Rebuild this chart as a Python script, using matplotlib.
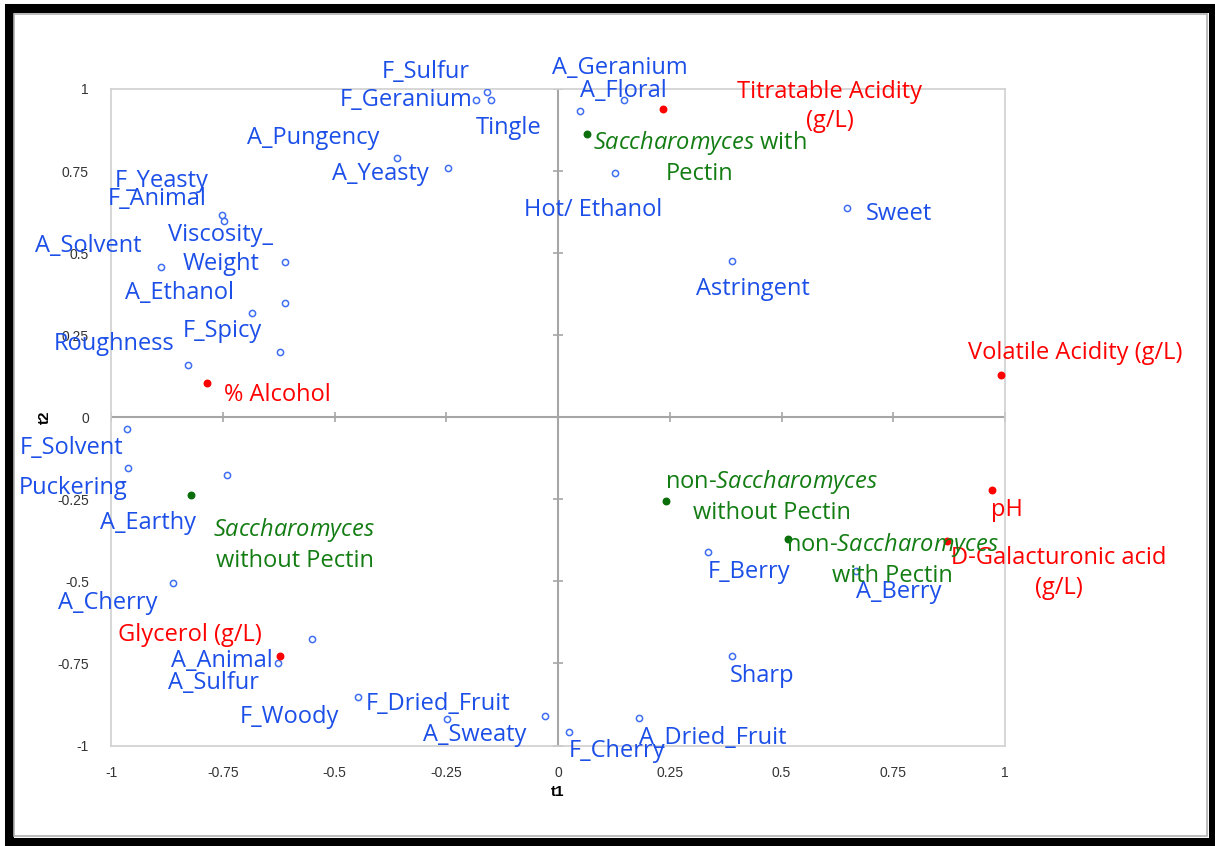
import matplotlib
matplotlib.use("Agg")
import matplotlib.pyplot as plt
from matplotlib.patches import Rectangle

plt.rcParams['font.family'] = ['Open Sans', 'DejaVu Sans']
plt.rcParams['mathtext.fontset'] = 'custom'
plt.rcParams['mathtext.rm'] = 'Open Sans'
plt.rcParams['mathtext.it'] = 'Open Sans:italic'

# sensory attributes (blue, hollow)
attr_names = ["F_Sulfur", "F_Geranium", "Tingle", "A_Geranium", "A_Floral", "Hot/ Ethanol",
              "Sweet", "Astringent", "A_Pungency", "A_Yeasty", "F_Yeasty", "F_Animal",
              "A_Solvent", "Viscosity_\nWeight", "A_Ethanol", "", "F_Spicy", "Roughness",
              "F_Solvent", "Puckering", "A_Earthy", "A_Cherry", "A_Animal", "A_Sulfur",
              "F_Woody", "F_Dried_Fruit", "A_Sweaty", "F_Cherry", "A_Dried_Fruit", "Sharp",
              "F_Berry", "A_Berry"]
attr_t1 = [-0.159, -0.184, -0.150, 0.148, 0.050, 0.127,
           0.646, 0.390, -0.361, -0.247, -0.751, -0.747,
           -0.889, -0.611, -0.684, -0.611, -0.622, -0.827,
           -0.965, -0.963, -0.741, -0.861, -0.551, -0.627,
           -0.447, -0.249, -0.028, 0.025, 0.181, 0.390,
           0.336, 0.667]
attr_t2 = [0.991, 0.966, 0.966, 0.966, 0.934, 0.743,
           0.638, 0.477, 0.789, 0.758, 0.616, 0.598,
           0.458, 0.474, 0.319, 0.349, 0.200, 0.159,
           -0.037, -0.156, -0.177, -0.504, -0.675, -0.749,
           -0.851, -0.919, -0.911, -0.959, -0.916, -0.728,
           -0.411, -0.469]

# chemical variables (red)
chem_names = ["Titratable Acidity\n(g/L)", "Volatile Acidity (g/L)", "% Alcohol", "pH",
              "D-Galacturonic acid\n(g/L)", "Glycerol (g/L)"]
chem_t1 = [0.234, 0.990, -0.786, 0.972, 0.870, -0.622]
chem_t2 = [0.940, 0.128, 0.103, -0.223, -0.377, -0.728]

# treatments (green)
treat_names = [r"$\mathit{Saccharomyces}$ with" + "\nPectin",
               r"$\mathit{Saccharomyces}$" + "\nwithout Pectin",
               r"non-$\mathit{Saccharomyces}$" + "\nwithout Pectin",
               r"non-$\mathit{Saccharomyces}$" + "\nwith Pectin"]
treat_t1 = [0.065, -0.820, 0.241, 0.514]
treat_t2 = [0.862, -0.238, -0.254, -0.370]

ticks = [-1, -0.75, -0.5, -0.25, 0, 0.25, 0.5, 0.75, 1]
tick_labels = ["-1", "-0.75", "-0.5", "-0.25", "0", "0.25", "0.5", "0.75", "1"]

# label offsets in pixels
attr_off = [(-61, 23), (-70, 3), (18, -25), (-4, 35), (43, 23), (-22, -34),
            (52, -3), (21, -25), (-83, 23), (-67, -3), (-61, 37), (-67, 25),
            (-72, 24), (-64, 15), (-73, 23), (0, 0), (-58, 24), (-74, 24),
            (-55, -16), (-54, -17), (-79, -45), (-65, -17), (-90, -19), (-64, -17),
            (-69, -17), (-9, 18), (-71, -16), (48, -16), (74, -17), (30, -17),
            (41, -17), (43, -18)]
chem_off = [(167, 5), (75, 25), (71, -9), (14, -17), (112, -29), (-90, 24)]
treat_off = [(113, -20), (103, -46), (106, 7), (105, -18)]

W, H = 1215, 846
fig = plt.figure(figsize=(W / 100, H / 100), dpi=100)
ax = fig.add_axes([111 / W, (H - 745.5) / H, 894 / W, 656.5 / H])
ax.set_xlim(-1, 1)
ax.set_ylim(-1, 1)

for s in ax.spines.values():
    s.set_color('#d0d0d0')
    s.set_linewidth(1.2)

ax.axhline(0, color='#a6a6a6', lw=1.5, zorder=1)
ax.axvline(0, color='#a6a6a6', lw=1.5, zorder=1)
ax.plot(ticks, [0] * len(ticks), ls='none', marker='|', ms=7, mew=1.2, color='#a6a6a6', zorder=1)
ax.plot([0] * len(ticks), ticks, ls='none', marker='_', ms=7, mew=1.2, color='#a6a6a6', zorder=1)

ax.set_xticks(ticks)
ax.set_xticklabels(tick_labels)
ax.set_yticks(ticks)
ax.set_yticklabels(tick_labels)
ax.tick_params(length=0, labelsize=10, labelcolor='#333333')
ax.tick_params(axis='x', pad=15)
ax.tick_params(axis='y', pad=16)
for lab in ax.get_xticklabels() + ax.get_yticklabels():
    lab.set_fontfamily('Liberation Sans')

fig.text(558 / W, 1 - 792 / H, "t1", fontsize=11, fontweight='bold', family='Liberation Sans',
         ha='center', va='center')
fig.text(45 / W, 1 - 417 / H, "t2", fontsize=11, fontweight='bold', family='Liberation Sans',
         ha='center', va='center', rotation=90)

blue = '#1c4fe8'
red = '#ff0000'
green = '#137d13'

ax.scatter(attr_t1, attr_t2, s=20, facecolors='white', edgecolors='#3f6ef0', linewidths=1.1, zorder=3)
ax.scatter(chem_t1, chem_t2, s=22, color=red, zorder=3)
ax.scatter(treat_t1, treat_t2, s=22, color='#0a6e0a', zorder=3)

def put_labels(names, xs, ys, offs, color):
    for n, x, y, o in zip(names, xs, ys, offs):
        if not n:
            continue
        ax.annotate(n, (x, y), xytext=(o[0], o[1] - 3), textcoords='offset pixels',
                    ha='center', va='center', multialignment='center', fontsize=17,
                    color=color, linespacing=1.3, zorder=4, annotation_clip=False)

put_labels(attr_names, attr_t1, attr_t2, attr_off, blue)
put_labels(chem_names, chem_t1, chem_t2, chem_off, red)
put_labels(treat_names, treat_t1, treat_t2, treat_off, green)

# outer frame
fig.patches.append(Rectangle((9 / W, 4.5 / H), 1204 / W, 833 / H, transform=fig.transFigure,
                             fill=False, edgecolor='black', lw=6.5))
fig.patches.append(Rectangle((14 / W, 10 / H), 1193 / W, 822 / H, transform=fig.transFigure,
                             fill=False, edgecolor='#b0b0b0', lw=1.2))

fig.savefig("out.png", dpi=100)
